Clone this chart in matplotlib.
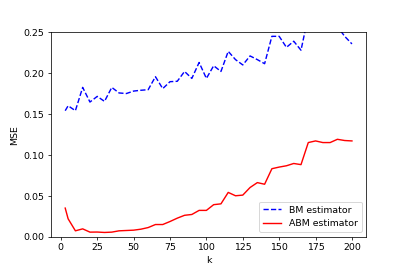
import matplotlib
matplotlib.use("Agg")
import matplotlib.pyplot as plt

k = [3] + list(range(5, 201, 5))

bm = [0.154, 0.160, 0.154, 0.1825, 0.1646, 0.1715, 0.1654, 0.1825, 0.1757, 0.175,
      0.178, 0.179, 0.1797, 0.1956, 0.181, 0.1895, 0.190, 0.202, 0.1935, 0.213,
      0.1935, 0.209, 0.202, 0.2266, 0.2165, 0.210, 0.221, 0.2165, 0.2115, 0.245,
      0.245, 0.2315, 0.239, 0.228, 0.270, 0.272, 0.265, 0.275, 0.257, 0.245, 0.2357]

abm = [0.0348, 0.0217, 0.0070, 0.0094, 0.0054, 0.0055, 0.0050, 0.0054, 0.0070, 0.0074,
       0.0078, 0.0090, 0.0110, 0.0147, 0.0147, 0.0184, 0.0225, 0.0260, 0.0270, 0.0320,
       0.0320, 0.0390, 0.0400, 0.0540, 0.0499, 0.0507, 0.0600, 0.0660, 0.0640, 0.0830,
       0.0850, 0.0866, 0.0894, 0.0880, 0.1150, 0.1170, 0.1150, 0.1150, 0.1190, 0.1175, 0.1170]

fig = plt.figure(figsize=(6.0, 4.0), dpi=67.83)
ax = fig.add_subplot(111)
fig.subplots_adjust(left=0.125, right=0.9, top=0.88, bottom=0.127)
ax.plot(k, bm, "b--", label="BM estimator")
ax.plot(k, abm, "r-", label="ABM estimator")
ax.set_ylim(0, 0.25)
ax.set_xlabel("k")
ax.set_ylabel("MSE")
ax.legend(loc="lower right")
fig.savefig("out.png", dpi=67.83)
